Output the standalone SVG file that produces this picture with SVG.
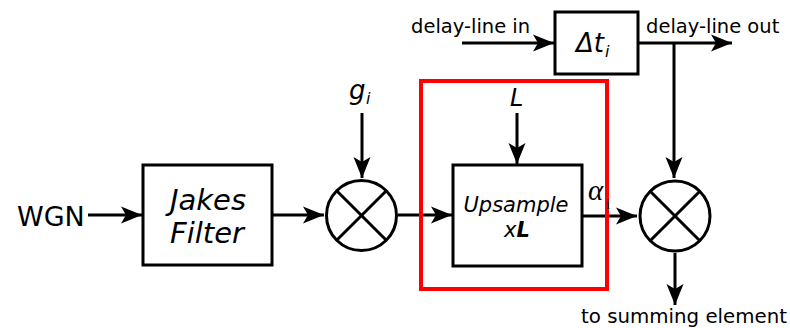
<svg xmlns="http://www.w3.org/2000/svg" width="790" height="328" viewBox="0 0 790 328">
<defs>
<marker id="ah" markerUnits="userSpaceOnUse" markerWidth="26" markerHeight="20" viewBox="-23 -10 25 20" refX="0" refY="0" orient="auto">
<path d="M0,0 L-21,-8.5 L-16,0 L-21,8.5 Z" fill="#000"/>
</marker>
</defs>
<style>
.box{fill:#fff;stroke:#000;stroke-width:3}
.ln{fill:none;stroke:#000;stroke-width:3}
.ar{fill:none;stroke:#000;stroke-width:3;marker-end:url(#ah)}
.t{font-family:"DejaVu Sans",Verdana,sans-serif;fill:#000}
.it{font-style:italic}
.sf{font-family:"Liberation Serif","Times New Roman",serif;fill:#000}
</style>
<rect width="790" height="328" fill="#fff"/>
<g id="connectors">
<line class="ar" x1="88" y1="215" x2="142" y2="215"/>
<line class="ar" x1="273" y1="215" x2="324" y2="215"/>
<line class="ar" x1="362" y1="113" x2="362" y2="178"/>
<line class="ar" x1="398" y1="215" x2="452" y2="215"/>
<line class="ar" x1="517" y1="113" x2="517" y2="164"/>
<line class="ar" x1="582" y1="216" x2="637" y2="216"/>
<line class="ar" x1="462" y1="43" x2="554" y2="43"/>
<line class="ar" x1="638" y1="43" x2="732" y2="43"/>
<line class="ar" x1="674" y1="43" x2="674" y2="178"/>
<line class="ar" x1="675" y1="253" x2="675" y2="305"/>
</g>
<g id="wgn"><text class="t" x="17" y="226" font-size="27">WGN</text></g>
<g id="jakes">
<rect class="box" x="143" y="165" width="129" height="100"/>
<text class="t it" x="208" y="210" font-size="29" text-anchor="middle">Jakes</text>
<text class="t it" x="207" y="243" font-size="29" text-anchor="middle">Filter</text>
</g>
<g id="mult1">
<circle class="box" cx="361.5" cy="215.5" r="35"/>
<line class="ln" x1="336.7" y1="190.7" x2="386.3" y2="240.3"/>
<line class="ln" x1="386.3" y1="190.7" x2="336.7" y2="240.3"/>
</g>
<g id="gi">
<text class="t it" x="349" y="99" font-size="26">g</text>
<text class="t it" x="366" y="104" font-size="16">i</text>
</g>
<g id="upsample">
<rect class="box" x="453" y="165" width="129" height="101"/>
<text class="t it" x="516" y="212" font-size="21" text-anchor="middle">Upsample</text>
<text class="t" x="517" y="237" font-size="21" text-anchor="middle"><tspan font-style="italic">x</tspan><tspan font-style="italic" font-weight="bold">L</tspan></text>
</g>
<g id="L"><text class="t it" x="510" y="106" font-size="24">L</text></g>
<g id="highlight"><rect x="421" y="81" width="186" height="208" fill="none" stroke="#f00" stroke-width="4"/></g>
<g id="alpha">
<text class="sf" x="588" y="200" font-style="italic" font-size="29">α</text>
<text class="sf" x="606" y="209" font-size="15">i</text>
</g>
<g id="delay">
<rect class="box" x="555" y="12" width="83" height="62"/>
<text class="t it" x="576" y="52" font-size="26">Δt</text>
<text class="t it" x="605" y="57" font-size="16">i</text>
</g>
<g id="dlin"><text class="t" x="411" y="33" font-size="19.5">delay-line in</text></g>
<g id="dlout"><text class="t" x="646" y="33" font-size="19.5">delay-line out</text></g>
<g id="mult2">
<circle class="box" cx="675" cy="216" r="35"/>
<line class="ln" x1="650.2" y1="191.2" x2="699.8" y2="240.8"/>
<line class="ln" x1="699.8" y1="191.2" x2="650.2" y2="240.8"/>
</g>
<g id="summing"><text class="t" x="581" y="323" font-size="19.8">to summing element</text></g>
</svg>
